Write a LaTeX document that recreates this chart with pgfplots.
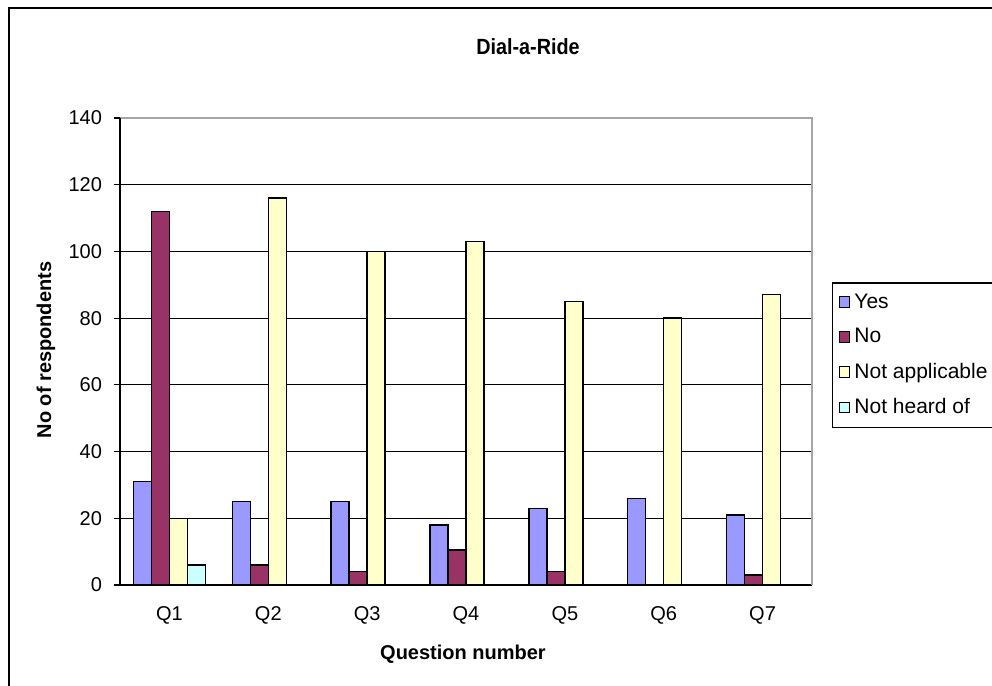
\documentclass[border=0pt]{standalone}
\usepackage{pgfplots}
\pgfplotsset{compat=1.18}
\usepackage{graphicx}
\usepackage{fontspec}
\setmainfont{Liberation Sans}
\definecolor{cyes}{HTML}{9999FF}
\definecolor{cno}{HTML}{993366}
\definecolor{cna}{HTML}{FFFFCC}
\definecolor{cnh}{HTML}{CCFFFF}
\begin{document}
\begin{tikzpicture}[x=0.5pt,y=0.5pt]
% outer chart frame (partly cropped like the reference)
\draw[black,line width=1pt] (9,678) rectangle (1010,-10);
\begin{axis}[
  at={(60pt,50.5pt)}, anchor=south west,
  scale only axis, width=346pt, height=233.5pt,
  ybar=0pt, bar width=9pt,
  xmin=-0.5, xmax=6.5, ymin=0, ymax=140,
  axis x line*=bottom, axis y line*=left,
  axis line style={black,line width=0.6pt},
  xtick={0,...,6}, xticklabels={Q1,Q2,Q3,Q4,Q5,Q6,Q7},
  x tick style={draw=none},
  extra x ticks={-0.5,0.5,...,6.5}, extra x tick labels={},
  extra x tick style={tick style={draw=black,line width=0.6pt}, major tick length=3.5pt, tick align=outside, grid=none},
  ytick={0,20,...,140},
  y tick style={black,line width=0.6pt}, major tick length=3pt, tick align=outside,
  ymajorgrids, grid style={black,line width=0.6pt},
  yticklabel style={xshift=-2.5pt},
  xticklabel style={yshift=-4pt},
  tick label style={font=\fontsize{10}{12}\selectfont},
  /pgf/number format/assume math mode=true,
  legend style={at={(1.029,0.648)}, anchor=north west, draw=black, line width=0.6pt,
    font=\fontsize{10.5}{12}\selectfont, row sep=4.6pt, inner sep=3pt, inner ysep=3.3pt},
  legend cell align=left,
  legend image code/.code={\draw[#1,draw=black,line width=0.5pt] (0pt,-2.7pt) rectangle (5.4pt,2.7pt);},
  clip=false,
]
\addplot[fill=cyes,draw=black,line width=0.7pt] coordinates {(0,31) (1,25) (2,25) (3,18) (4,23) (5,26) (6,21)};
\addplot[fill=cno,draw=black,line width=0.7pt] coordinates {(0,112) (1,6) (2,4) (3,10.5) (4,4) (5,0) (6,3)};
\addplot[fill=cna,draw=black,line width=0.7pt] coordinates {(0,20) (1,116) (2,100) (3,103) (4,85) (5,80) (6,87)};
\addplot[fill=cnh,draw=black,line width=0.7pt] coordinates {(0,6) (1,0) (2,0) (3,0) (4,0) (5,0) (6,0)};
\legend{Yes,No,Not applicable\hspace{20pt},Not heard of}
\draw[gray!70,line width=0.8pt] (rel axis cs:0,1) -- (rel axis cs:1,1) -- (rel axis cs:1,0);
\draw[black,line width=0.6pt] (rel axis cs:0,0) -- (rel axis cs:0,1);
\end{axis}
\node[font=\bfseries\fontsize{11}{13}\selectfont] at (528,639) {\scalebox{0.9}[1]{Dial-a-Ride}};
\node[font=\bfseries\fontsize{10}{12}\selectfont] at (463,32) {Question number};
\node[font=\bfseries\fontsize{10}{12}\selectfont,rotate=90] at (46,336) {No of respondents};
\pgfresetboundingbox
\useasboundingbox (0,0) rectangle (992,686);
\end{tikzpicture}
\end{document}
